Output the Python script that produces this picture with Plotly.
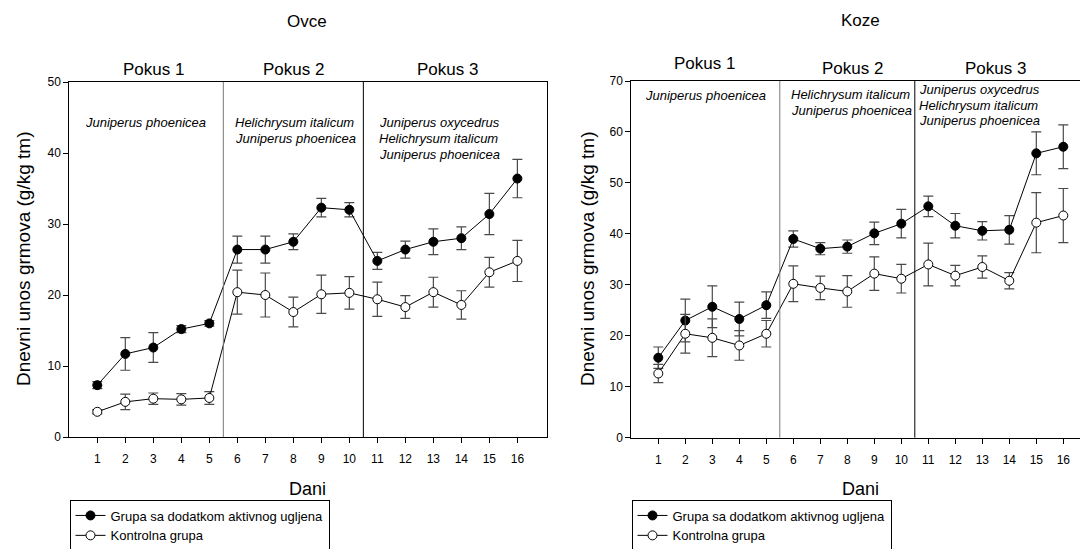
import plotly.graph_objects as go

W, H = 1080, 549

days = list(range(1, 17))
day_labels = [str(d) for d in days]

# Ovce (sheep)
ovce_akt = [7.3, 11.7, 12.6, 15.2, 16.0, 26.4, 26.4, 27.5, 32.3, 32.0, 24.8, 26.4, 27.5, 28.0, 31.4, 36.4]
ovce_akt_err = [0.5, 2.3, 2.1, 0.5, 0.4, 1.9, 1.9, 1.1, 1.3, 1.0, 1.2, 1.2, 1.8, 1.6, 2.9, 2.7]
ovce_kon = [3.55, 4.95, 5.4, 5.3, 5.5, 20.4, 20.0, 17.6, 20.1, 20.3, 19.4, 18.3, 20.4, 18.6, 23.2, 24.8]
ovce_kon_err = [0.3, 1.1, 0.8, 0.8, 0.9, 3.1, 3.1, 2.1, 2.7, 2.3, 2.4, 1.6, 2.1, 2.0, 2.1, 2.9]

# Koze (goats)
koze_akt = [15.7, 23.0, 25.7, 23.3, 26.0, 39.0, 37.1, 37.5, 40.1, 42.0, 45.4, 41.6, 40.6, 40.8, 55.8, 57.1]
koze_akt_err = [2.1, 4.2, 4.1, 3.3, 2.6, 1.6, 1.2, 1.3, 2.2, 2.8, 2.0, 2.4, 1.8, 2.8, 4.2, 4.3]
koze_kon = [12.6, 20.4, 19.6, 18.1, 20.4, 30.2, 29.4, 28.7, 32.2, 31.2, 34.0, 31.8, 33.5, 30.8, 42.2, 43.6]
koze_kon_err = [1.8, 3.8, 3.7, 2.9, 2.6, 3.5, 2.3, 3.1, 3.3, 2.8, 4.2, 2.0, 2.2, 1.6, 5.9, 5.3]

series_names = ["Grupa sa dodatkom aktivnog ugljena", "Kontrolna grupa"]
panel_titles = ["Ovce", "Koze"]
pokus_labels = ["Pokus 1", "Pokus 2", "Pokus 3"]
plant_labels = [
    ["Juniperus phoenicea"],
    ["Helichrysum italicum", "Juniperus phoenicea"],
    ["Juniperus oxycedrus", "Helichrysum italicum", "Juniperus phoenicea"],
]
y_title = "Dnevni unos grmova (g/kg tm)"
x_title = "Dani"

FONT = "Liberation Sans, Arial, sans-serif"
ERRC = "#4a4a4a"


def px(x):
    return x / W


def py(y):
    return 1 - y / H


fig = go.Figure()


def add_series(xa, ya, vals, errs, name, filled, legend):
    fig.add_trace(go.Scatter(
        x=days, y=vals, name=name, mode="lines+markers",
        xaxis=xa, yaxis=ya, legend=legend,
        line=dict(color="black", width=1),
        marker=dict(size=9, color="black" if filled else "white",
                    line=dict(color="black", width=1)),
        error_y=dict(type="data", array=errs, visible=True,
                     color=ERRC, thickness=1.2, width=5),
    ))


add_series("x", "y", ovce_akt, ovce_akt_err, series_names[0], True, "legend")
add_series("x", "y", ovce_kon, ovce_kon_err, series_names[1], False, "legend")
add_series("x2", "y2", koze_akt, koze_akt_err, series_names[0], True, "legend2")
add_series("x2", "y2", koze_kon, koze_kon_err, series_names[1], False, "legend2")

# panel geometry (pixels)
L = dict(x0=69.3, x1=546.5, y0=437.0, y1=82.0, xr=[0, 17.04], yr=[0, 50])
R = dict(x0=631.3, x1=1080, y0=437.7, y1=81.0, xr=[0, (1080 - 631.3) / 27.0], yr=[0, 70])

axis_common = dict(showgrid=False, zeroline=False, showline=True, linecolor="black",
                   linewidth=1, ticks="outside", ticklen=5, tickcolor="black",
                   tickfont=dict(family=FONT, size=12, color="black"))

fig.update_layout(
    xaxis=dict(domain=[px(L["x0"]), px(L["x1"])], range=L["xr"], anchor="y",
               tickvals=days, ticktext=day_labels, mirror=True, ticklabelstandoff=6,
               **axis_common),
    yaxis=dict(domain=[py(L["y0"]), py(L["y1"])], range=L["yr"], anchor="x",
               dtick=10, mirror=True, **axis_common),
    xaxis2=dict(domain=[px(R["x0"]), 1.0], range=R["xr"], anchor="y2",
                tickvals=days, ticktext=day_labels, mirror=True, ticklabelstandoff=6,
                **axis_common),
    yaxis2=dict(domain=[py(R["y0"]), py(R["y1"])], range=R["yr"], anchor="x2",
                dtick=10, mirror=False, **axis_common),
)

# divider lines
shapes = []
for xa, ya in [("x", "y"), ("x2", "y2")]:
    for xv, col in [(5.5, "#7a7a7a"), (10.5, "black")]:
        shapes.append(dict(type="line", xref=xa, yref=ya + " domain", x0=xv, x1=xv,
                           y0=0, y1=1, line=dict(color=col, width=1)))
fig.update_layout(shapes=shapes)

ann = []


def text(x, y, s, size, italic=False, angle=0, xanchor="center", xref="paper"):
    ann.append(dict(x=x, y=y, xref=xref, yref="paper", text=s, showarrow=False,
                    xanchor=xanchor, yanchor="middle", textangle=angle,
                    font=dict(family=FONT, size=size, color="black",
                              style="italic" if italic else "normal")))


# titles
text(8.5, py(22), panel_titles[0], 17, xref="x")
text(8.5, py(20), panel_titles[1], 17, xref="x2")
# pokus labels
for xv, lab in zip([3.0, 8.0, 13.5], pokus_labels):
    text(xv, py(69), lab, 17, xref="x")
for xv, lab, yy in zip([2.7, 8.2, 13.5], pokus_labels, [63.5, 68.5, 68.5]):
    text(xv, py(yy), lab, 17, xref="x2")

# plant labels left panel
for (x0, y0s), lines in zip([(82.7, 122.3), (232.7, 122.3), (376.7, 122.3)], plant_labels):
    for i, s in enumerate(lines):
        text(px(x0), py(y0s + 16 * i), s, 13, italic=True, xanchor="left")
# plant labels right panel
for (x0, y0s), lines in zip([(643.3, 96.0), (789.3, 94.3), (917.3, 89.0)], plant_labels):
    for i, s in enumerate(lines):
        text(px(x0), py(y0s + 16 * i), s, 13, italic=True, xanchor="left")

# axis titles
text(px(23), py(259), y_title, 19, angle=-90)
text(px(587), py(259), y_title, 19, angle=-90)
text(8.5, py(489), x_title, 18, xref="x")
text(8.5, py(489), x_title, 18, xref="x2")

fig.update_layout(annotations=ann)

leg_common = dict(bgcolor="white", bordercolor="black", borderwidth=1,
                  font=dict(family=FONT, size=13, color="black"),
                  xanchor="left", yanchor="top", tracegroupgap=0,
                  itemclick=False, xref="container", yref="container")
fig.update_layout(
    legend=dict(x=px(69.5), y=py(499.5), **leg_common),
    legend2=dict(x=px(631.5), y=py(499.5), **leg_common),
)

fig.update_layout(width=W, height=H,
                  margin=dict(l=0, r=0, t=0, b=0, pad=0, autoexpand=False),
                  paper_bgcolor="white", plot_bgcolor="white",
                  font=dict(family=FONT, color="black"))

fig.write_html("out.html")
